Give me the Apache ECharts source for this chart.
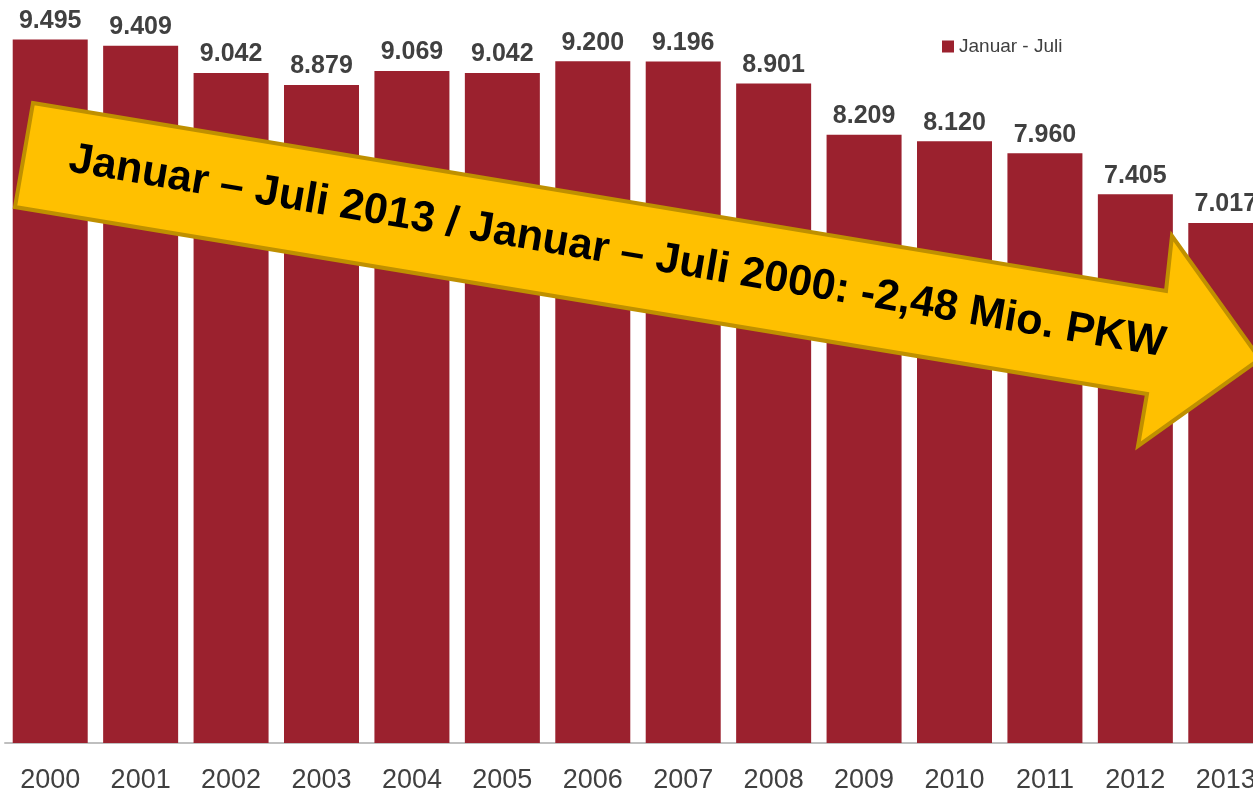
<!DOCTYPE html>
<html>
<head>
<meta charset="utf-8">
<script src="https://cdn.jsdelivr.net/npm/echarts@6/dist/echarts.min.js"></script>
<style>html,body{margin:0;padding:0;background:#fff;overflow:hidden;width:1253px;height:794px;}#c{width:1271px;height:794px;}</style>
</head>
<body>
<div id="c"></div>
<script>
const years = ['2000','2001','2002','2003','2004','2005','2006','2007','2008','2009','2010','2011','2012','2013'];
const values = [9495, 9409, 9042, 8879, 9069, 9042, 9200, 9196, 8901, 8209, 8120, 7960, 7405, 7017];
const seriesName = 'Januar - Juli';
const arrowText = 'Januar – Juli 2013 / Januar – Juli 2000: -2,48 Mio. PKW';

const fmt = v => (v / 1000).toFixed(3);

const chart = echarts.init(document.getElementById('c'));
chart.setOption({
  animation: false,
  backgroundColor: '#ffffff',
  grid: { left: 5, top: 2, right: 0, bottom: 50, containLabel: false },
  legend: {
    data: [seriesName],
    left: 937, top: 32,
    icon: 'rect', itemWidth: 12, itemHeight: 12, itemGap: 6,
    textStyle: { fontFamily: 'Liberation Sans, Arial', fontSize: 19, color: '#404040' }
  },
  xAxis: {
    type: 'category',
    data: years,
    axisLine: { show: true, lineStyle: { color: '#BFBFBF', width: 2 } },
    axisTick: { show: false },
    axisLabel: { fontFamily: 'Liberation Sans, Arial', fontSize: 27, color: '#404040', margin: 24 }
  },
  yAxis: {
    type: 'value', min: 0, max: 10000, show: false,
    splitLine: { show: false }
  },
  series: [{
    name: seriesName,
    type: 'bar',
    data: values,
    barWidth: 75,
    itemStyle: { color: '#9B212E' },
    label: {
      show: true, position: 'top', distance: 6,
      formatter: p => fmt(p.value),
      fontFamily: 'Liberation Sans, Arial', fontWeight: 'bold', fontSize: 25, color: '#404040'
    }
  }],
  graphic: [
    {
      type: 'polygon', z: 100,
      shape: { points: [[33,103],[1166,291],[1172,236],[1260,359],[1138,446],[1147,394],[15,207]] },
      style: { fill: '#FFC000', stroke: '#BF9000', lineWidth: 4, lineJoin: 'miter' }
    },
    {
      type: 'text', z: 101,
      x: 617, y: 252,
      rotation: -9.6 * Math.PI / 180,
      style: {
        text: arrowText,
        fontFamily: 'Liberation Sans, Arial', fontWeight: 'bold', fontSize: 43,
        fill: '#000000', align: 'center', verticalAlign: 'middle'
      }
    }
  ]
});
</script>
</body>
</html>
